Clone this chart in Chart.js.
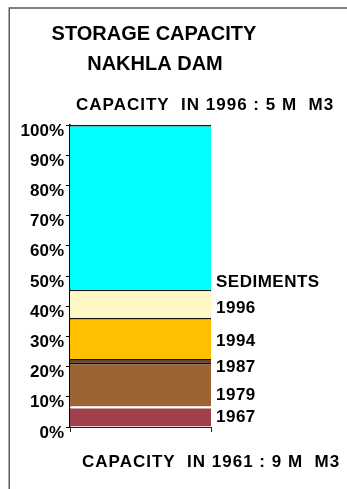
<!DOCTYPE html>
<html><head><meta charset="utf-8">
<script src="https://cdn.jsdelivr.net/npm/chart.js@4.4.0/dist/chart.umd.min.js"></script>
<style>html,body{margin:0;padding:0;background:#fff;}canvas{display:block;}</style>
</head><body>
<canvas id="c" width="347" height="489"></canvas>
<script>
// ---- data ----
const categories = ['NAKHLA DAM'];
const seriesNames = ['1967', '1979', '1987', '1994', '1996', 'CAPACITY 1996'];
const seriesValues = [6.8, 14.4, 1.3, 13.6, 9.4, 54.5];
const seriesColors = ['#A0404A', '#9B6432', '#7A4A22', '#FFC000', '#FFF8C6', '#00FFFF'];
const seriesTopBorder = ['#FFFFFF', '#111111', '#111111', '#111111', '#111111', '#111111'];
const yTickStep = 10;
const yMax = 100;
const sideLabels = ['SEDIMENTS', '1996', '1994', '1987', '1979', '1967'];
const sideLabelAt = [46.4, 37.9, 26.9, 18.3, 9.0, 1.75];
const titleLines = ['STORAGE CAPACITY', 'NAKHLA DAM'];
const topNote = 'CAPACITY  IN 1996 : 5 M  M3';
const bottomNote = 'CAPACITY  IN 1961 : 9 M  M3';

const FONT = '"Liberation Sans", Arial, Helvetica, sans-serif';

const datasets = seriesNames.map((n, i) => ({
  label: n,
  data: [seriesValues[i]],
  backgroundColor: seriesColors[i],
  borderColor: seriesTopBorder[i],
  borderWidth: {top: i === 0 ? 2 : 1.6, right: 0, bottom: 0, left: 0},
  borderSkipped: false,
  inflateAmount: 0,
  barPercentage: 1,
  categoryPercentage: 1
}));

function setSpacing(ctx, v) { if ('letterSpacing' in ctx) ctx.letterSpacing = v; }

const deco = {
  id: 'deco',
  beforeDraw(chart) {
    const ctx = chart.ctx;
    ctx.save();
    ctx.fillStyle = '#fff';
    ctx.fillRect(0, 0, chart.width, chart.height);
    ctx.strokeStyle = '#5a5a5a';
    ctx.lineWidth = 1.5;
    ctx.beginPath();
    ctx.moveTo(9.25, chart.height + 2);
    ctx.lineTo(9.25, 8);
    ctx.lineTo(chart.width + 2, 8);
    ctx.stroke();
    ctx.restore();
  },
  afterDraw(chart) {
    const ctx = chart.ctx;
    const ys = chart.scales.y;
    const area = chart.chartArea;
    ctx.save();
    ctx.fillStyle = '#000';
    ctx.textBaseline = 'alphabetic';
    // titles
    ctx.font = 'bold 20px ' + FONT;
    ctx.textAlign = 'center';
    ctx.fillText(titleLines[0], 154, 40);
    ctx.fillText(titleLines[1], 155, 70);
    // notes
    ctx.textAlign = 'left';
    ctx.font = 'bold 17px ' + FONT;
    setSpacing(ctx, '1px');
    ctx.fillText(topNote, 76, 110);
    ctx.fillText(bottomNote, 82, 467);
    // side labels
    setSpacing(ctx, '0.5px');
    sideLabels.forEach((t, i) => {
      ctx.fillText(t, area.right + 5, ys.getPixelForValue(sideLabelAt[i]));
    });
    setSpacing(ctx, '0px');
    ctx.restore();
  }
};

new Chart(document.getElementById('c'), {
  type: 'bar',
  data: { labels: categories, datasets },
  options: {
    responsive: false,
    animation: false,
    devicePixelRatio: 1,
    layout: { padding: { top: 125, right: 136, bottom: 52, left: 0 } },
    plugins: { legend: { display: false }, tooltip: { enabled: false }, title: { display: false } },
    scales: {
      x: {
        stacked: true,
        afterFit(s) { s.height = 10; },
        grid: { drawOnChartArea: false, tickLength: 5, color: '#222', offset: true },
        border: { display: true, color: '#222', width: 1 },
        ticks: { display: false }
      },
      y: {
        stacked: true,
        min: 0, max: yMax,
        afterFit(s) { s.width = 70; },
        grid: { drawOnChartArea: false, tickLength: 4, color: '#000' },
        border: { display: true, color: '#000', width: 1.5 },
        ticks: {
          stepSize: yTickStep,
          padding: 2,
          labelOffset: 6,
          color: '#000',
          font: { family: FONT, size: 17, weight: 'bold' },
          callback: v => v + '%'
        }
      }
    }
  },
  plugins: [deco]
});
</script>
</body></html>
